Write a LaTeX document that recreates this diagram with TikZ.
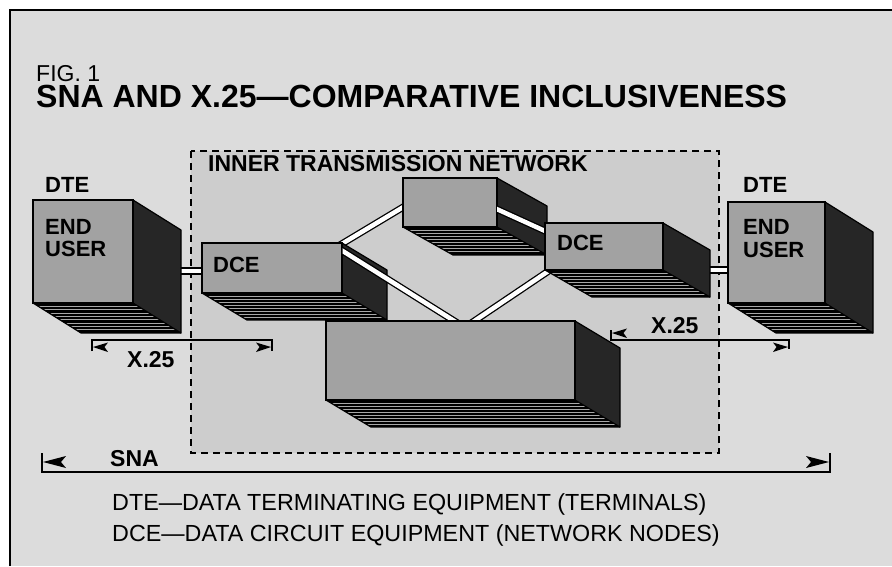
\documentclass[tikz,border=0pt]{standalone}
\usepackage{fontspec}
\setmainfont{Liberation Sans}
\definecolor{bglight}{HTML}{DCDCDC}
\definecolor{bginner}{HTML}{CDCDCD}
\definecolor{frontgray}{HTML}{A2A2A2}
\definecolor{sidegray}{HTML}{262626}
\definecolor{stripegray}{HTML}{A8A8A8}
\tikzset{
  frontface/.style={draw=black, line width=1.4pt, fill=frontgray, inner sep=0pt, outer sep=0pt, anchor=north west},
  sideface/.style={draw=black, line width=1.2pt, fill=sidegray, line join=round},
  stripe/.style={draw=stripegray, line width=0.8pt},
  band/.style={draw=black, line width=1.3pt, double=white, double distance=4.5pt},
  lbl/.style={anchor=base west, inner sep=0pt, font=\bfseries\fontsize{22}{24}\selectfont},
  biglbl/.style={lbl, font=\bfseries\fontsize{23}{24}\selectfont},
  legend/.style={anchor=base west, inner sep=0pt, font=\fontsize{23.3}{26}\selectfont},
  dimline/.style={draw=black, line width=1.2pt},
  dimtip/.style={fill=black},
}
% #1 name, #2 x, #3 y, #4 w, #5 h, #6 dx, #7 dy
\newcommand\solidbox[7]{%
  \begin{scope}
    \clip (#2,#3+#5) -- (#2+#4,#3+#5) -- (#2+#4+#6,#3+#5+#7) -- (#2+#6,#3+#5+#7) -- cycle;
    \fill[black] (#2,#3+#5) rectangle (#2+#4+#6,#3+#5+#7);
    \foreach \k in {1,...,8}
      \draw[stripe] (#2,{#3+#5+\k*#7/9}) -- ++(#4+#6,0);
  \end{scope}
  \draw[black, line width=1.2pt, line join=round] (#2,#3+#5) -- (#2+#6,#3+#5+#7) -- (#2+#4+#6,#3+#5+#7);
  \filldraw[sideface] (#2+#4,#3) -- (#2+#4+#6,#3+#7) -- (#2+#4+#6,#3+#5+#7) -- (#2+#4,#3+#5) -- cycle;
  \node[frontface, minimum width=#4pt, minimum height=#5pt] (#1) at (#2,#3) {};
}
\begin{document}
\begin{tikzpicture}[x=1pt,y=-1pt]
\useasboundingbox (0,0) rectangle (892,566);
% background and frame
\fill[white] (0,0) rectangle (892,566);
\fill[bglight] (10,10) rectangle (892,566);
\draw[line width=2.5pt] (10,566) -- (10,10) -- (892,10);
% inner transmission network
\fill[bginner] (191,151) rectangle (719,453);
\draw[line width=1.3pt, dash pattern=on 7pt off 5pt] (191,151) rectangle (719,453);

% texts
\node[anchor=base west, inner sep=0pt, text height=16.5pt, text depth=0pt, font=\fontsize{23}{24}\selectfont] (fig) at (36,81) {FIG. 1};
\node[anchor=base west, inner sep=0pt, text height=23pt, text depth=0pt, font=\bfseries\fontsize{32}{36}\selectfont] (title) at (36,107) {SNA AND X.25—COMPARATIVE INCLUSIVENESS};
\node[biglbl] (itn) at (208,171) {INNER TRANSMISSION NETWORK};
\node[lbl] (dtel) at (45,192) {DTE};
\node[lbl] (dter) at (743,192) {DTE};

% connector coordinates
\coordinate (a1) at (335,248); \coordinate (a2) at (410,203);
\coordinate (c1) at (490,206); \coordinate (c2) at (556,236);
\coordinate (d1) at (556,266); \coordinate (d2) at (455,334);
\coordinate (b1) at (330,243); \coordinate (b2) at (475,334);
\coordinate (l1) at (165,271); \coordinate (l2) at (212,271);
\coordinate (r1) at (700,270); \coordinate (r2) at (738,270);

% links between end users and DCEs (under boxes)
\draw[band] (l1) -- (l2);
\draw[band] (r1) -- (r2);
% band A: left DCE to top box
\draw[band] (a1) -- (a2);
% top box
\solidbox{topb}{403}{178}{94}{49}{50}{28}
% band C over top box right face
\begin{scope}
  \clip (497,0) rectangle (892,566);
  \draw[band] (c1) -- (c2);
\end{scope}
% band D: right DCE to big box
\draw[band] (d1) -- (d2);
% right DCE
\solidbox{dcer}{545}{223}{118}{47}{47}{27}
% left DCE
\solidbox{dcel}{202}{243}{140}{50}{45}{27}
% band B over left DCE right face
\begin{scope}
  \clip (342.7,0) rectangle (892,566);
  \draw[band] (b1) -- (b2);
\end{scope}
% big box
\solidbox{big}{326}{321}{249}{79}{45}{27}
% end users
\solidbox{eul}{33}{200}{100}{103}{48}{30}
\solidbox{eur}{728}{202}{97}{101}{48}{30}

% box labels
\node[lbl] (eul1) at (45,234) {END};
\node[lbl] (eul2) at (45,256) {USER};
\node[lbl] (eur1) at (743,234) {END};
\node[lbl] (eur2) at (743,257) {USER};
\node[lbl] (dcelt) at (213,272) {DCE};
\node[lbl] (dcert) at (557,250) {DCE};

% X.25 left (ticks down, tips below line)
\coordinate (xl1) at (92,340); \coordinate (xl2) at (272,340);
\draw[dimline] ([yshift=-11pt]xl1) -- (xl1) -- (xl2) -- ([yshift=-11pt]xl2);
\fill[dimtip] (93,347) -- (108,342.5) -- (104.5,347) -- (108,352) -- cycle;
\fill[dimtip] (271,347) -- (256,342.5) -- (259.5,347) -- (256,352) -- cycle;
\node[biglbl] (x25l) at (127,367) {X.25};

% X.25 right (left tick up, right tick down)
\coordinate (xr1) at (611,340); \coordinate (xr2) at (789,340);
\draw[dimline] ([yshift=10pt]xr1) -- (xr1) -- (xr2) -- ([yshift=-9pt]xr2);
\fill[dimtip] (612,333) -- (627,328.5) -- (623.5,333) -- (627,338) -- cycle;
\fill[dimtip] (788,347) -- (773,342.5) -- (776.5,347) -- (773,352) -- cycle;
\node[biglbl] (x25r) at (651,333) {X.25};

% SNA (ticks up, tips above line)
\coordinate (s1) at (42,472); \coordinate (s2) at (830,472);
\draw[dimline] ([yshift=19pt]s1) -- (s1) -- (s2) -- ([yshift=19pt]s2);
\fill[dimtip] (43,462) -- (66,456) -- (61,462) -- (66,468) -- cycle;
\fill[dimtip] (829,462) -- (806,456) -- (811,462) -- (806,468) -- cycle;
\node[biglbl] (sna) at (110,466) {SNA};

% legend
\node[legend] (leg1) at (112,510) {DTE—DATA TERMINATING EQUIPMENT (TERMINALS)};
\node[legend] (leg2) at (112,541) {DCE—DATA CIRCUIT EQUIPMENT (NETWORK NODES)};
\end{tikzpicture}
\end{document}
